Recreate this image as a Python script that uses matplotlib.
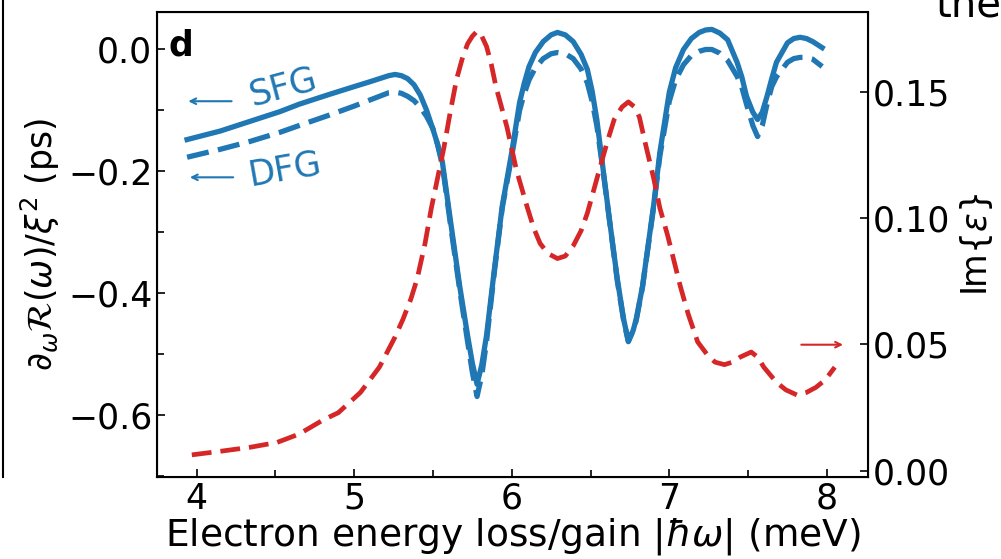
import matplotlib
matplotlib.use("Agg")
import matplotlib.pyplot as plt
from matplotlib.lines import Line2D
from matplotlib.ticker import MultipleLocator

# blue curves (left axis)
sfg_x = [3.94, 4.15, 4.34, 4.53, 4.65, 4.84, 5.00, 5.10, 5.16, 5.22, 5.26, 5.30,
         5.34, 5.38, 5.42, 5.46, 5.50, 5.53, 5.56, 5.61, 5.67, 5.72, 5.75, 5.78,
         5.81, 5.84, 5.89, 5.94, 6.00, 6.05, 6.08, 6.11, 6.15, 6.20, 6.25, 6.29,
         6.34, 6.39, 6.44, 6.48, 6.51, 6.54, 6.58, 6.62, 6.67, 6.71, 6.74, 6.77,
         6.79, 6.83, 6.90, 6.94, 7.00, 7.04, 7.09, 7.14, 7.19, 7.23, 7.27, 7.32,
         7.37, 7.43, 7.46, 7.49, 7.53, 7.56, 7.59, 7.62, 7.65, 7.68, 7.75, 7.79,
         7.83, 7.87, 7.91, 7.97]
sfg_y = [-0.148, -0.134, -0.118, -0.102, -0.090, -0.074, -0.061, -0.053, -0.048,
         -0.043, -0.041, -0.043, -0.048, -0.058, -0.075, -0.100, -0.131, -0.156,
         -0.185, -0.279, -0.389, -0.470, -0.515, -0.550, -0.518, -0.470, -0.361,
         -0.257, -0.169, -0.087, -0.055, -0.028, -0.005, 0.013, 0.024, 0.028,
         0.024, 0.013, -0.008, -0.033, -0.068, -0.115, -0.197, -0.279, -0.377,
         -0.443, -0.479, -0.462, -0.443, -0.389, -0.257, -0.169, -0.070, -0.030,
         0.000, 0.018, 0.028, 0.032, 0.033, 0.027, 0.016, -0.021, -0.045, -0.077,
         -0.103, -0.115, -0.103, -0.077, -0.048, -0.021, 0.011, 0.018, 0.020,
         0.018, 0.013, 0.003]
dfg_y = [-0.177, -0.164, -0.151, -0.136, -0.125, -0.108, -0.093, -0.083, -0.077,
         -0.071, -0.070, -0.072, -0.077, -0.084, -0.095, -0.110, -0.130, -0.157,
         -0.190, -0.285, -0.395, -0.480, -0.530, -0.570, -0.535, -0.480, -0.365,
         -0.260, -0.175, -0.100, -0.072, -0.050, -0.030, -0.015, -0.007, -0.005,
         -0.007, -0.015, -0.032, -0.055, -0.085, -0.125, -0.200, -0.280, -0.380,
         -0.445, -0.480, -0.462, -0.445, -0.390, -0.260, -0.175, -0.085, -0.050,
         -0.025, -0.010, -0.003, 0.000, 0.000, -0.006, -0.018, -0.044, -0.062,
         -0.090, -0.125, -0.143, -0.125, -0.090, -0.061, -0.045, -0.021, -0.015,
         -0.013, -0.013, -0.016, -0.028]

# Im{eps} (right axis)
eps_x = [3.97, 4.15, 4.34, 4.51, 4.65, 4.80, 4.90, 4.97, 5.04, 5.10, 5.16, 5.21,
         5.26, 5.31, 5.36, 5.40, 5.45, 5.49, 5.53, 5.57, 5.61, 5.65, 5.69, 5.72,
         5.75, 5.78, 5.81, 5.84, 5.87, 5.90, 5.97, 6.03, 6.10, 6.14, 6.18, 6.23,
         6.29, 6.34, 6.39, 6.44, 6.48, 6.52, 6.56, 6.61, 6.65, 6.70, 6.74, 6.78,
         6.81, 6.85, 6.90, 6.94, 6.99, 7.03, 7.07, 7.12, 7.18, 7.24, 7.29, 7.35,
         7.40, 7.45, 7.52, 7.56, 7.60, 7.64, 7.68, 7.74, 7.81, 7.87, 7.93, 7.99,
         8.05]
eps_y = [0.0063, 0.0077, 0.0093, 0.0112, 0.0145, 0.020, 0.023, 0.027, 0.031,
         0.036, 0.041, 0.047, 0.053, 0.060, 0.068, 0.076, 0.090, 0.104, 0.116,
         0.128, 0.142, 0.155, 0.164, 0.169, 0.172, 0.174, 0.172, 0.168, 0.161,
         0.152, 0.136, 0.119, 0.104, 0.096, 0.090, 0.086, 0.084, 0.085, 0.089,
         0.095, 0.102, 0.111, 0.120, 0.131, 0.139, 0.144, 0.146, 0.144, 0.140,
         0.129, 0.116, 0.104, 0.093, 0.083, 0.073, 0.062, 0.051, 0.046, 0.043,
         0.042, 0.043, 0.045, 0.047, 0.045, 0.041, 0.038, 0.035, 0.032, 0.030,
         0.031, 0.033, 0.036, 0.041]

blue = "#1f77b4"
red = "#d62728"
fs = 25

fig = plt.figure(figsize=(10.01, 5.59), dpi=100)
ax = fig.add_axes([0.157, 0.147, 0.710, 0.832])
ax2 = ax.twinx()

ax.plot(sfg_x, sfg_y, color=blue, lw=3.8)
ax.plot(sfg_x, dfg_y, color=blue, lw=3.8, ls=(0, (4.2, 1.8)))
ax2.plot(eps_x, eps_y, color=red, lw=3.4, ls=(0, (4.2, 1.9)))

ax.set_xlim(3.75, 8.26)
ax.set_ylim(-0.702, 0.062)
ax2.set_ylim(-0.0024, 0.1817)

ax.xaxis.set_major_locator(MultipleLocator(1))
ax.xaxis.set_minor_locator(MultipleLocator(0.5))
ax.yaxis.set_major_locator(MultipleLocator(0.2))
ax.yaxis.set_minor_locator(MultipleLocator(0.1))
ax2.yaxis.set_major_locator(MultipleLocator(0.05))

ax.tick_params(which="both", direction="in", labelsize=fs, width=1.2)
ax.tick_params(which="major", length=6)
ax.tick_params(which="minor", length=5)
ax2.tick_params(direction="in", labelsize=fs, length=6, width=1.2)
for s in ax.spines.values():
    s.set_linewidth(1.5)

ax.set_xlabel(r"Electron energy loss/gain $|\hbar\omega|$ (meV)", fontsize=27, labelpad=0)
ax.set_ylabel(r"$\partial_\omega\mathcal{R}(\omega)/\xi^2$ (ps)", fontsize=fs, labelpad=4)
ax2.set_ylabel(r"Im$\{\varepsilon\}$", fontsize=fs, labelpad=6)

ax.text(0.016, 0.965, "d", transform=ax.transAxes, fontsize=fs, fontweight="bold",
        va="top", ha="left")

# curve labels with little arrows
ax.text(4.55, -0.062, "SFG", color=blue, fontsize=fs, rotation=15, ha="center", va="center")
ax.text(4.56, -0.197, "DFG", color=blue, fontsize=fs, rotation=10, ha="center", va="center")
ax.annotate("", xy=(3.93, -0.085), xytext=(4.24, -0.085),
            arrowprops=dict(arrowstyle="->", color=blue, lw=1.5))
ax.annotate("", xy=(3.94, -0.210), xytext=(4.25, -0.210),
            arrowprops=dict(arrowstyle="->", color=blue, lw=1.5))
ax2.annotate("", xy=(8.12, 0.0499), xytext=(7.82, 0.0499),
             arrowprops=dict(arrowstyle="->", color=red, lw=1.5))

# bits of the neighbouring panels cut by the crop
fig.add_artist(Line2D([0.003, 0.003], [0.147, 1.0], transform=fig.transFigure,
                      color="black", lw=1.5))
fig.text(0.935, 0.970, "the", fontsize=29, ha="left", va="baseline")

fig.savefig("out.png", dpi=100)
